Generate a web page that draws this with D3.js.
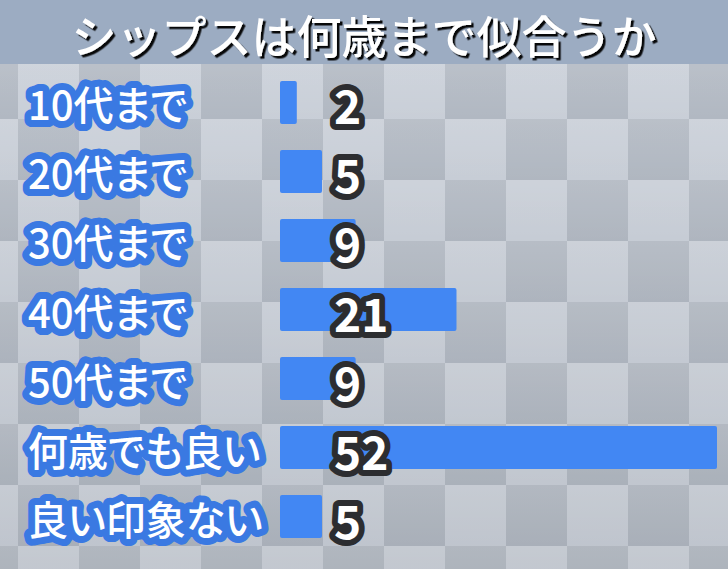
<!DOCTYPE html>
<html>
<head>
<meta charset="utf-8">
<script src="https://cdn.jsdelivr.net/npm/d3@7"></script>
<style>
  html, body { margin: 0; padding: 0; background: #c5ccd5; }
  svg { display: block; }
</style>
</head>
<body>
<div id="chart"></div>
<script>
// data
const title = 'シップスは何歳まで似合うか';
const categories = ['10代まで', '20代まで', '30代まで', '40代まで', '50代まで', '何歳でも良い', '良い印象ない'];
const values = [2, 5, 9, 21, 9, 52, 5];

const W = 728, H = 569;
const headH = 64;
const cell = 61, gridX = 18, gridY = 58;

let svg = d3.select('#chart').append('svg').attr('width', W).attr('height', H);
let defs = svg.append('defs');

// soft top highlight on each checker square
let g1 = defs.append('linearGradient').attr('id', 'sheen')
  .attr('x1', 0).attr('y1', 0).attr('x2', 0).attr('y2', 1);
g1.append('stop').attr('offset', '0%').attr('stop-color', '#fff').attr('stop-opacity', 0.12);
g1.append('stop').attr('offset', '100%').attr('stop-color', '#fff').attr('stop-opacity', 0);

let shade = defs.append('linearGradient').attr('id', 'shade')
  .attr('x1', 0).attr('y1', 0).attr('x2', 0).attr('y2', 1);
shade.append('stop').attr('offset', '0%').attr('stop-color', '#000').attr('stop-opacity', 0);
shade.append('stop').attr('offset', '100%').attr('stop-color', '#000').attr('stop-opacity', 0.06);

// hard black drop shadow for the title
defs.append('filter').attr('id', 'drop')
  .attr('x', '-5%').attr('y', '-20%').attr('width', '110%').attr('height', '140%')
  .append('feDropShadow')
  .attr('dx', 2.5).attr('dy', 2.5).attr('stdDeviation', 0.4)
  .attr('flood-color', '#000').attr('flood-opacity', 0.95);

// checkerboard background
let squares = [];
for (let r = 0; r * cell + gridY - cell < H; ++r)
  for (let c = 0; c * cell + gridX - cell < W; ++c)
    squares.push({ x: gridX + (c - 1) * cell, y: gridY + (r - 1) * cell, dark: (c + r) % 2 == 1 });

let bg = svg.append('g');
bg.selectAll('rect.sq').data(squares).enter().append('rect')
  .attr('class', 'sq')
  .attr('x', d => d.x).attr('y', d => d.y)
  .attr('width', cell).attr('height', cell)
  .attr('fill', d => d.dark ? '#b3bac4' : '#cbd1da');
bg.selectAll('rect.sh').data(squares).enter().append('rect')
  .attr('class', 'sh')
  .attr('x', d => d.x).attr('y', d => d.y)
  .attr('width', cell).attr('height', cell)
  .attr('fill', 'url(#sheen)');
bg.append('rect').attr('width', W).attr('height', H).attr('fill', 'url(#shade)');

// header
svg.append('rect').attr('width', W).attr('height', headH).attr('fill', '#9cacc2');
svg.append('text')
  .attr('x', W / 2).attr('y', 34)
  .attr('text-anchor', 'middle').attr('dominant-baseline', 'central')
  .style('font-family', '"Noto Sans CJK JP", "Noto Sans", sans-serif')
  .style('font-size', '45px').style('font-weight', 500)
  .attr('fill', '#fff')
  .attr('filter', 'url(#drop)')
  .text(title);

// scales
let x = d3.scaleLinear().domain([0, d3.max(values)]).range([280, 717]);
let y = d3.scaleBand().domain(categories).range([81, 538]).paddingInner(0.377).paddingOuter(0);

let rows = svg.append('g').selectAll('g.row')
  .data(categories.map((c, i) => ({ cat: c, val: values[i] })))
  .enter().append('g').attr('class', 'row');

rows.append('rect')
  .attr('x', x(0))
  .attr('y', d => y(d.cat))
  .attr('width', d => x(d.val) - x(0))
  .attr('height', y.bandwidth())
  .attr('rx', 2)
  .attr('fill', '#4287f3');

rows.append('text')
  .attr('x', 28)
  .attr('y', d => y(d.cat) + y.bandwidth() / 2 + 1)
  .attr('dominant-baseline', 'central')
  .style('font-family', '"Noto Sans CJK JP", "Noto Sans", sans-serif')
  .style('font-size', '40px').style('font-weight', 500)
  .style('font-feature-settings', '"palt"')
  .style('paint-order', 'stroke')
  .attr('stroke', '#3a79e2').attr('stroke-width', 14).attr('stroke-linejoin', 'round')
  .attr('fill', '#fff')
  .text(d => d.cat);

rows.append('text')
  .attr('x', 334)
  .attr('y', d => y(d.cat) + y.bandwidth() / 2 + 2)
  .attr('dominant-baseline', 'central')
  .style('font-family', '"Noto Sans CJK JP", "DejaVu Sans", sans-serif')
  .style('font-size', '46px').style('font-weight', 700)
  .style('paint-order', 'stroke')
  .attr('stroke', '#2c2d30').attr('stroke-width', 12).attr('stroke-linejoin', 'round')
  .attr('fill', '#fff')
  .text(d => d.val);
</script>
</body>
</html>
